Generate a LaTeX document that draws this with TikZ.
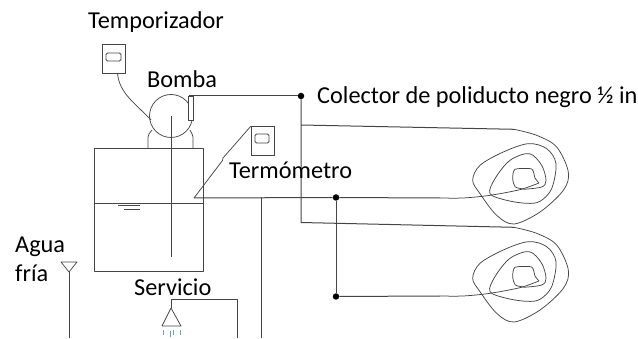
\documentclass[tikz,border=0pt]{standalone}
\usepackage{fontspec}
\setmainfont{Carlito}
\definecolor{ink}{HTML}{454545}
\tikzset{
  every picture/.style={x=1pt,y=-1pt},
  pipe/.style={draw=ink,line width=1pt,line join=round},
  thin pipe/.style={draw=ink,line width=0.75pt,line join=round},
  label/.style={inner sep=0pt,anchor=base west,text=black,font=\fontsize{24.3}{24.3}\selectfont},
  junction/.style={circle,fill=black,inner sep=0pt,minimum size=6.5pt}
}
\newcommand{\coilshape}[1]{%
  \begin{scope}[shift={(440,#1)},x=0.3333pt,y=-0.3333pt]
    \draw[thin pipe] plot[smooth,tension=0.55] coordinates {(222,22) (290,40) (350,75) (385,150) (370,205) (300,270) (222,306) (170,280) (120,215) (98,175) (120,130) (190,90) (265,65) (320,80) (348,125) (335,200) (300,238) (260,244) (200,235) (150,215) (165,170) (210,115) (268,95) (305,130) (318,175) (305,195) (250,202)};
    \draw[thin pipe] plot[smooth,tension=0.5] coordinates {(0,228) (70,228) (150,220) (240,203) (297,183)};
    \draw[thin pipe] plot[smooth,tension=0.4] coordinates {(297,183) (285,168) (275,141) (225,142) (218,170) (226,195) (250,201)};
  \end{scope}}
\begin{document}
\begin{tikzpicture}
\useasboundingbox (0,0) rectangle (638,339);
% tank
\draw[thin pipe] (94,148) rectangle (203,271);
\draw[thin pipe] (94,203.5) -- (203,203.5);
\draw[thin pipe] (118,205.5) -- (140,205.5);
\draw[thin pipe] (124,209) -- (140,209);
% pump
\node[circle,draw=ink,line width=0.75pt,minimum size=43pt,inner sep=0pt] (pump) at (171,116) {};
\draw[thin pipe] (148,148) -- (148,137) .. controls (148,134) and (150,133) .. (152,130);
\draw[thin pipe] (193,148) -- (193,137) .. controls (193,134) and (191,133) .. (190,130);
\node[draw=ink,fill=white,line width=0.75pt,minimum width=5pt,minimum height=24pt,inner sep=0pt,anchor=north west] (outlet) at (188,96) {};
\draw[thin pipe] (171,116) -- (171,257);
% timer
\node[draw=ink,line width=0.75pt,minimum width=23pt,minimum height=29pt,inner sep=0pt,anchor=north west] (timer) at (102,44) {};
\node[draw=ink,line width=0.75pt,rounded corners=1.5pt,minimum width=15pt,minimum height=8pt,inner sep=0pt] (timerw) at (113.5,57) {};
\draw[thin pipe] (117.5,73) .. controls (119,93) and (135,103) .. (151,120);
% thermometer
\node[draw=ink,line width=0.75pt,minimum width=23pt,minimum height=29pt,inner sep=0pt,anchor=north west] (thermo) at (251,126) {};
\node[draw=ink,line width=0.75pt,rounded corners=1.5pt,minimum width=14pt,minimum height=9pt,inner sep=0pt] (thermow) at (262,138.5) {};
\coordinate (tip) at (194,198);
\draw[thin pipe] (thermo.north west) -- (223,158) -- (222.5,160.5) -- (tip);
% pipes
\node[junction] (top) at (301,96) {};
\node[junction] (ret1) at (336,197.5) {};
\node[junction] (ret2) at (336,296.5) {};
\coordinate (c1in) at (514,129.3);
\coordinate (c2in) at (514,227.3);
\coordinate (c1out) at (440,198);
\coordinate (c2out) at (440,296);
\draw[pipe] (outlet.north east) ++(-5,0) -- (top);
\draw[pipe] (top) -- (301,222.5) -- (c2in);
\draw[pipe] (301,125) -- (c1in);
\draw[pipe] (tip) -- (ret1) -- (c1out);
\draw[pipe] (ret1) -- (ret2);
\draw[pipe] (ret2) -- (c2out);
\draw[pipe] (261,197.5) -- (261,338);
\coilshape{122}
\coilshape{220}
% cold water
\draw[thin pipe] (61,262) -- (77,262) -- (69,272) -- cycle;
\draw[pipe] (69,272) -- (69,338);
% service
\draw[thin pipe] (171,308) -- (162,326) -- (181,326) -- cycle;
\draw[thin pipe] (171,308) -- (171,299) -- (237,299) -- (237,338);
\draw[draw=cyan!50!gray,line width=0.7pt] (163.5,330) -- (163.5,335) (170,331) -- (170,337) (173,330) -- (173,335) (180,330) -- (180,335);
% labels
\node[label] (t1) at (88,29) {Temporizador};
\node[label] (t2) at (147,88) {Bomba};
\node[label] (t3) at (317,104) {Colector de poliducto negro ½ in};
\node[label] (t4) at (229,179) {Termómetro};
\node[label] (t5) at (15,253) {Agua};
\node[label] (t6) at (15,282) {fría};
\node[label] (t7) at (134,296) {Servicio};
\end{tikzpicture}
\end{document}
